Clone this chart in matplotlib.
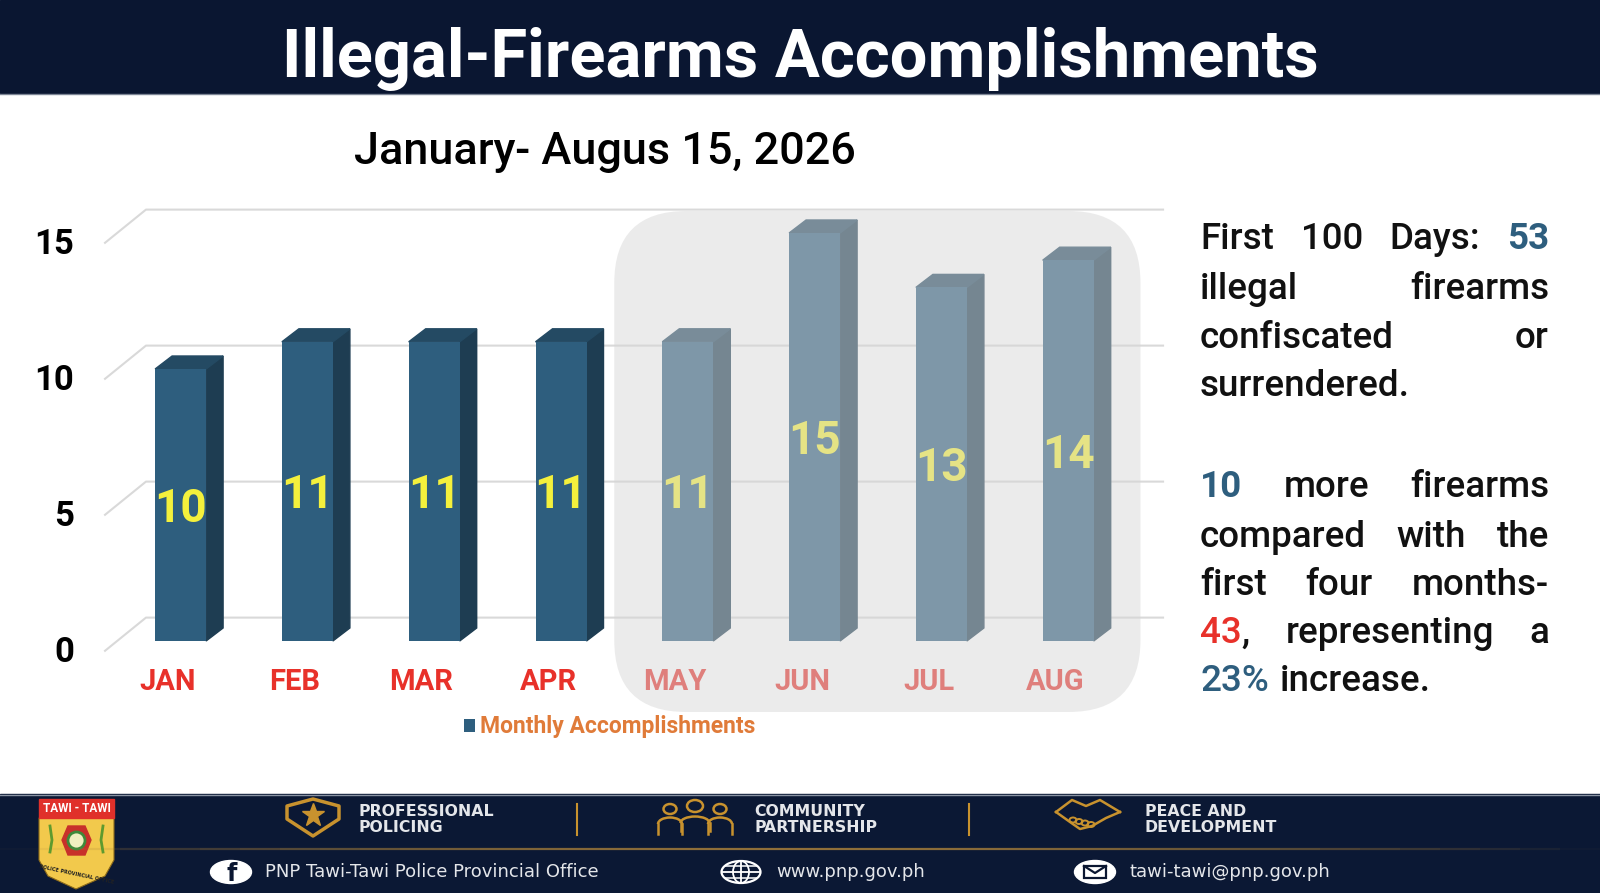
import numpy as np
import matplotlib.pyplot as plt
from matplotlib.patches import Polygon, Rectangle, FancyBboxPatch, Ellipse, Arc

# ---- data ----
months = ['JAN', 'FEB', 'MAR', 'APR', 'MAY', 'JUN', 'JUL', 'AUG']
accomplishments = [10, 11, 11, 11, 11, 15, 13, 14]
y_ticks = [0, 5, 10, 15]
highlight_from = 4  # May onwards is shaded (first 100 days)

title = 'Illegal-Firearms Accomplishments'
subtitle = 'January- Augus 15, 2026'
legend_label = 'Monthly Accomplishments'

NAVY = '#0A1631'
BAR = '#2E5E7E'
BAR_SIDE = '#1E3D52'
BAR_TOP = '#244A63'
RED = '#E8312A'
YELLOW = '#F4F03C'
GOLD = '#C8922E'
FONT = 'Roboto'

W, H = 1600, 893
fig = plt.figure(figsize=(W / 100, H / 100), dpi=100)
fig.patch.set_facecolor('white')
renderer = fig.canvas.get_renderer()

# full-figure pixel axes (y downward) for header / footer
deco = fig.add_axes([0, 0, 1, 1], zorder=0)
deco.set_xlim(0, W)
deco.set_ylim(H, 0)
deco.axis('off')


def fit_text(axp, x, y, s, width, **kw):
    """draw text and rescale its size so it spans `width` pixels"""
    t = axp.text(x, y, s, **kw)
    w = t.get_window_extent(renderer).width
    t.set_fontsize(t.get_fontsize() * width / w)
    return t


# header
deco.add_patch(Rectangle((0, 0), W, 93, color=NAVY))
deco.plot([0, W], [93.5, 93.5], color='#7C8595', lw=1)
fit_text(deco, 800, 59, title, 1036, color='white', fontsize=50, family=FONT,
         fontweight='bold', ha='center', va='center')
fit_text(deco, 605, 152, subtitle, 500, color='black', fontsize=30, family=FONT,
         fontweight='medium', ha='center', va='center')

# ---- chart axes ----
x0_px, step_px = 180.6, 126.8       # centre of first bar, spacing (pixels)
base_px, unit_px = H - 641, 27.2    # value 0 (from bottom), px per firearm
ax_l, ax_r, ax_b, ax_t = 20, 1175, 110, 730
ax = fig.add_axes([ax_l / W, ax_b / H, (ax_r - ax_l) / W, (ax_t - ax_b) / H], zorder=1)
ax.set_xlim((ax_l - x0_px) / step_px, (ax_r - x0_px) / step_px)
ax.set_ylim((ax_b - base_px) / unit_px, (ax_t - base_px) / unit_px)
ax.axis('off')
ax.patch.set_alpha(0)

x = np.arange(len(months))
bw = 51 / step_px
ddx, ddy = 17 / step_px, 13 / unit_px  # bar depth

# perspective grid (back wall + floor diagonals)
gx_front, gx_back, gx_end = -0.596, -0.273, 7.748
for v in y_ticks:
    ax.plot([gx_front, gx_back, gx_end], [v - 0.36, v + 0.86, v + 0.86],
            color='#D9D9D9', lw=1.5, zorder=1)
    ax.text(-0.84, v - 0.42, str(v), ha='right', va='center', fontsize=25,
            fontweight='bold', family=FONT, color='black')

bars = ax.bar(x, accomplishments, width=bw, color=BAR, zorder=3, label=legend_label)
for xi, v in zip(x, accomplishments):
    r = xi + bw / 2
    l = xi - bw / 2
    ax.add_patch(Polygon([(r, 0), (r + ddx, ddy), (r + ddx, v + ddy), (r, v)],
                         closed=True, color=BAR_SIDE, zorder=2))
    ax.add_patch(Polygon([(l, v), (l + ddx, v + ddy), (r + ddx, v + ddy), (r, v)],
                         closed=True, color=BAR_TOP, zorder=2))
    ax.text(xi, v / 2 - 0.15, str(v), ha='center', va='center', fontsize=33,
            fontweight='bold', family=FONT, color=YELLOW, zorder=4)

for xi, m in zip(x, months):
    ax.text(xi - 0.1, -1.5, m, ha='center', va='center', fontsize=21,
            fontweight='bold', family=FONT, color=RED)

leg = fig.legend(handles=[bars], loc='center left', bbox_to_anchor=(443 / W, 1 - 727 / H),
                 frameon=False, handlelength=0.5, handleheight=0.5, handletextpad=0.2,
                 prop={'family': FONT, 'weight': 'bold', 'size': 16.5}, labelcolor='#E07B39')

# ---- top layer: highlight overlay + right-hand text ----
top = fig.add_axes([0, 0, 1, 1], zorder=2)
top.set_xlim(0, W)
top.set_ylim(H, 0)
top.axis('off')
top.patch.set_alpha(0)

hl_left = x0_px + step_px * (highlight_from - 0.58)
hl_right = x0_px + step_px * (len(months) - 1 + 0.57)
top.add_patch(FancyBboxPatch((hl_left + 72, 211 + 72), hl_right - hl_left - 144, 501 - 144,
                             boxstyle='round,pad=72', facecolor='#D6D6D6', edgecolor='none',
                             alpha=0.48))

BLUE = BAR
BLACK = '#111111'
TX_L, TX_R, TX_SIZE = 1200, 1549, 26.5
para = [
    ([[('First', BLACK, 'medium')], [('100', BLACK, 'medium')], [('Days:', BLACK, 'medium')],
      [('53', BLUE, 'bold')]], 249, True),
    ([[('illegal', BLACK, 'medium')], [('firearms', BLACK, 'medium')]], 299, True),
    ([[('confiscated', BLACK, 'medium')], [('or', BLACK, 'medium')]], 348, True),
    ([[('surrendered.', BLACK, 'medium')]], 396, False),
    ([[('10', BLUE, 'bold')], [('more', BLACK, 'medium')], [('firearms', BLACK, 'medium')]], 497, True),
    ([[('compared', BLACK, 'medium')], [('with', BLACK, 'medium')], [('the', BLACK, 'medium')]], 547, True),
    ([[('first', BLACK, 'medium')], [('four', BLACK, 'medium')], [('months-', BLACK, 'medium')]], 595, True),
    ([[('43', RED, 'medium'), (',', BLACK, 'medium')], [('representing', BLACK, 'medium')],
      [('a', BLACK, 'medium')]], 643, True),
    ([[('23%', BLUE, 'medium')], [('increase.', BLACK, 'medium')]], 691, False),
]
for words, yb, justify in para:
    placed, widths = [], []
    for word in words:
        parts, wsum = [], 0
        for s, c, wt in word:
            t = top.text(0, yb, s, color=c, fontweight=wt, fontsize=TX_SIZE, family=FONT,
                         va='baseline', ha='left')
            pw = t.get_window_extent(renderer).width
            parts.append((t, pw))
            wsum += pw
        placed.append(parts)
        widths.append(wsum)
    if justify and len(words) > 1:
        gap = (TX_R - TX_L - sum(widths)) / (len(words) - 1)
    else:
        gap = TX_SIZE * 1.39 * 0.3
    xp = TX_L
    for parts in placed:
        for t, pw in parts:
            t.set_x(xp)
            xp += pw
        xp += gap

# ---- footer ----
deco.add_patch(Rectangle((0, 794), W, H - 794, color='#0B1834'))
deco.plot([0, W], [794.5, 794.5], color='#8A93A3', lw=1)
for i in range(40):
    a = np.sin(np.pi * (i + 0.5) / 40)
    deco.plot([i * W / 40, (i + 1) * W / 40], [849, 849], color='#A07A3A',
              alpha=0.9 * a, lw=1.6, solid_capstyle='butt')

# badge
deco.add_patch(Polygon([(39, 818), (114, 818), (114, 860), (105, 876), (76, 889),
                        (48, 876), (39, 860)], closed=True, facecolor='#F2C94C',
                       edgecolor='#8C6A1A', lw=0.8))
deco.add_patch(Rectangle((39, 799), 75, 19, color='#E0302A'))
deco.text(76.5, 808.5, 'TAWI - TAWI', color='white', fontsize=8.5, fontweight='bold',
          family=FONT, ha='center', va='center')
deco.add_patch(Polygon([(62, 840), (68, 826), (85, 826), (91, 840), (85, 855), (68, 855)],
                       closed=True, color='#C8302A'))
deco.add_patch(Ellipse((76.5, 840.5), 17, 17, facecolor='#F1EFC0', edgecolor='#3E8A3A', lw=2))
deco.plot([50, 52, 50], [826, 840, 852], color='#5E9A2E', lw=2)
deco.plot([103, 101, 103], [826, 840, 852], color='#5E9A2E', lw=2)
deco.text(76.5, 874, 'POLICE PROVINCIAL OFFICE', color='#222222', fontsize=3.5,
          fontweight='bold', ha='center', va='center', rotation=-12)

# shield with star
deco.add_patch(Polygon([(287, 806), (313, 799), (339, 806), (339, 819), (313, 836), (287, 819)],
                       closed=True, fill=False, edgecolor=GOLD, lw=2.5, joinstyle='round'))
deco.plot(313, 815, marker='*', ms=17, color=GOLD, mec=GOLD)

# people
for cx, cy, big in [(670, 809, 0), (695, 806, 1), (720, 809, 0)]:
    deco.add_patch(Ellipse((cx, cy), 13 + big * 3, 10 + big * 2, fill=False, edgecolor=GOLD, lw=1.8))
    deco.add_patch(Arc((cx, cy + 15 + big * 2), 24 + big * 5, 13, theta1=180, theta2=360,
                       edgecolor=GOLD, lw=1.8))
    hw = 12 + big * 2.5
    deco.plot([cx - hw, cx - hw], [cy + 15 + big * 2, cy + 25], color=GOLD, lw=1.8)
    deco.plot([cx + hw, cx + hw], [cy + 15 + big * 2, cy + 25], color=GOLD, lw=1.8)
# handshake
deco.plot([1056, 1072, 1086, 1100, 1120], [812, 800, 806, 800, 812], color=GOLD, lw=1.8)
deco.plot([1056, 1070, 1080, 1092, 1106, 1120], [812, 822, 829, 826, 818, 812], color=GOLD, lw=1.8)
for k in range(4):
    deco.add_patch(Ellipse((1073 + k * 6, 820 + k * 1.5), 7, 5, fill=False, edgecolor=GOLD, lw=1.4))

for xs in (577, 969):
    deco.plot([xs, xs], [804, 835], color=GOLD, lw=1.5)

ftxt = dict(color='#E4E6EA', fontsize=11.3, family='DejaVu Sans', fontweight='bold',
            va='center', ha='left')
for xl, l1, l2 in [(358, 'PROFESSIONAL', 'POLICING'), (754, 'COMMUNITY', 'PARTNERSHIP'),
                   (1145, 'PEACE AND', 'DEVELOPMENT')]:
    deco.text(xl, 812, l1, **ftxt)
    deco.text(xl, 827, l2, **ftxt)

# bottom contact row
deco.add_patch(Ellipse((231, 872), 41, 23, color='white'))
deco.text(232, 874, 'f', color=NAVY, fontsize=17, fontweight='bold', family='DejaVu Sans',
          ha='center', va='center')
deco.add_patch(Ellipse((741, 872), 39, 22, fill=False, edgecolor='white', lw=1.6))
deco.add_patch(Ellipse((741, 872), 16, 22, fill=False, edgecolor='white', lw=1.3))
deco.plot([741, 741], [861, 883], color='white', lw=1.3)
deco.plot([722, 760], [872, 872], color='white', lw=1.3)
deco.plot([725, 757], [866, 866], color='white', lw=1.1)
deco.plot([725, 757], [878, 878], color='white', lw=1.1)
deco.add_patch(Ellipse((1095, 872), 41, 23, color='white'))
deco.add_patch(Rectangle((1084, 866), 22, 12, fill=False, edgecolor=NAVY, lw=1.6))
deco.plot([1084, 1095, 1106], [866, 873, 866], color=NAVY, lw=1.6)

btxt = dict(color='#E4E6EA', fontsize=13, family='DejaVu Sans', va='center', ha='left')
deco.text(265, 872, 'PNP Tawi-Tawi Police Provincial Office', **btxt)
deco.text(776, 872, 'www.pnp.gov.ph', **btxt)
deco.text(1130, 872, 'tawi-tawi@pnp.gov.ph', **btxt)

fig.savefig('out.png', dpi=100)
